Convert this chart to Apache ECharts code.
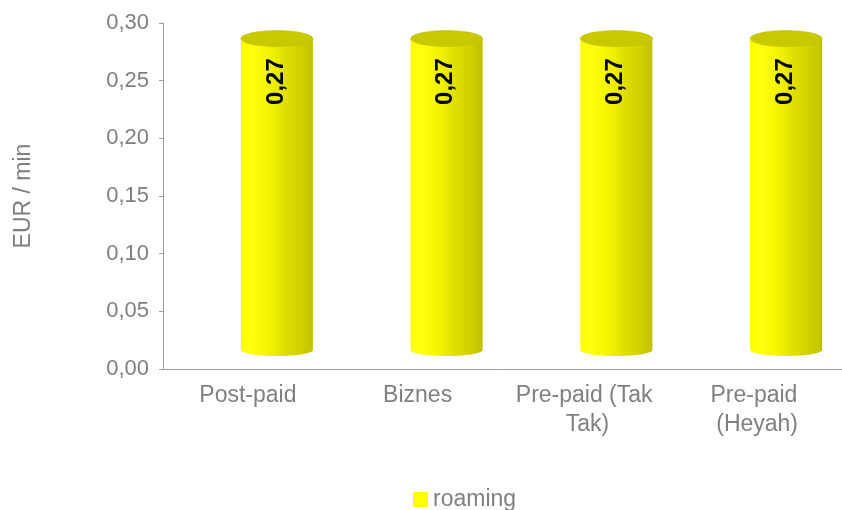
<!DOCTYPE html>
<html>
<head>
<meta charset="utf-8">
<script src="https://cdn.jsdelivr.net/npm/echarts@6/dist/echarts.min.js"></script>
<style>
  html, body { margin: 0; padding: 0; background: #fff; }
  #main { width: 842px; height: 510px; }
</style>
</head>
<body>
<div id="main"></div>
<script>
// data
var categories = ['Post-paid', 'Biznes', 'Pre-paid (Tak Tak)', 'Pre-paid (Heyah)'];
var roaming = [0.27, 0.27, 0.27, 0.27];
var seriesName = 'roaming';
var yTicks = { min: 0, max: 0.3, step: 0.05 };

var myChart = echarts.init(document.getElementById('main'));

// cylinder faces, light on the left, darker on the right
var bodyFill = new echarts.graphic.LinearGradient(0, 0, 1, 0, [
  { offset: 0, color: '#ffff00' },
  { offset: 0.138, color: '#ffff10' },
  { offset: 0.346, color: '#f7f700' },
  { offset: 0.507, color: '#eaea00' },
  { offset: 0.613, color: '#dfdf00' },
  { offset: 0.714, color: '#d8d800' },
  { offset: 0.83, color: '#d0d000' },
  { offset: 0.922, color: '#c8c800' },
  { offset: 1, color: '#c0c000' }
]);

function fmt(v) {
  return v.toFixed(2).replace('.', ',');
}

// 3d depth shift of the cylinders
var DX = 29, DY = -19, RX = 36, RY = 8;

function renderCylinder(params, api) {
  var top = api.coord([api.value(0), api.value(1)]);
  var base = api.coord([api.value(0), 0]);
  var cx = top[0] + DX;
  var yt = top[1] + DY;
  var yb = base[1] + DY;
  return {
    type: 'group',
    children: [
      { type: 'ellipse', shape: { cx: cx, cy: yb, rx: RX, ry: RY - 2 }, style: { fill: bodyFill } },
      { type: 'rect', shape: { x: cx - RX, y: yt, width: RX * 2, height: yb - yt }, style: { fill: bodyFill } },
      { type: 'ellipse', shape: { cx: cx, cy: yt, rx: RX, ry: RY }, style: { fill: '#c9c900', stroke: '#bdbd00', lineWidth: 0.5 } },
      {
        type: 'text',
        x: cx - 1,
        y: top[1] + 24,
        rotation: Math.PI / 2,
        style: {
          text: fmt(api.value(1)),
          fontFamily: 'Liberation Sans, Arial, sans-serif',
          fontSize: 24,
          fontWeight: 'bold',
          fill: '#000',
          align: 'center',
          verticalAlign: 'middle'
        }
      }
    ]
  };
}

var option = {
  animation: false,
  textStyle: { fontFamily: 'Liberation Sans, Arial, sans-serif' },
  grid: { left: 163, top: 23, width: 686, height: 346, containLabel: false },
  legend: {
    data: [seriesName],
    left: 408,
    top: 483,
    icon: 'rect',
    itemWidth: 15,
    itemHeight: 15,
    itemGap: 6,
    textStyle: { color: '#808080', fontSize: 23 }
  },
  xAxis: {
    type: 'category',
    data: categories,
    axisLine: { lineStyle: { color: '#a0a0a0', width: 1 } },
    axisTick: { length: 5, lineStyle: { color: '#a0a0a0' } },
    axisLabel: {
      color: '#808080',
      fontSize: 23,
      lineHeight: 29,
      margin: 12,
      width: 165,
      overflow: 'break',
      interval: 0
    }
  },
  yAxis: {
    type: 'value',
    min: yTicks.min,
    max: yTicks.max,
    interval: yTicks.step,
    name: 'EUR / min',
    nameLocation: 'middle',
    nameRotate: 90,
    nameGap: 128,
    nameTextStyle: { color: '#808080', fontSize: 23 },
    axisLine: { show: true, lineStyle: { color: '#a0a0a0', width: 1 } },
    axisTick: { show: true, length: 4, lineStyle: { color: '#a0a0a0' } },
    splitLine: { show: false },
    axisLabel: {
      color: '#808080',
      fontSize: 22,
      margin: 14,
      formatter: function (v) { return fmt(v); }
    }
  },
  series: [{
    name: seriesName,
    type: 'custom',
    itemStyle: { color: '#ffff00' },
    renderItem: renderCylinder,
    encode: { x: 0, y: 1 },
    data: roaming.map(function (v, i) { return [i, v]; })
  }]
};

myChart.setOption(option);
</script>
</body>
</html>
